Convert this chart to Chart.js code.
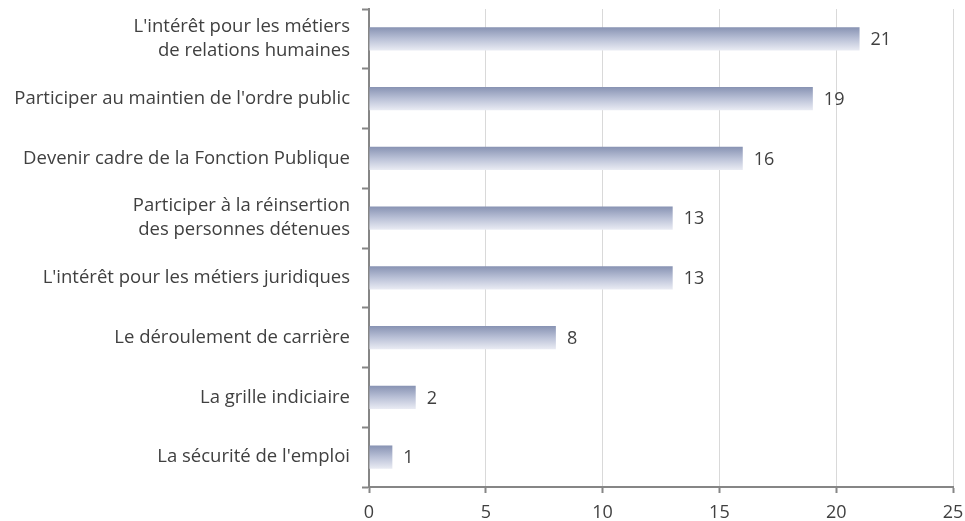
<!DOCTYPE html>
<html>
<head>
<meta charset="utf-8">
<script src="https://cdn.jsdelivr.net/npm/chart.js@4"></script>
<style>
  html, body { margin: 0; padding: 0; background: #fff; }
  #wrap { width: 965px; height: 521px; }
</style>
</head>
<body>
<div id="wrap"><canvas id="chart"></canvas></div>
<script>
const labels = [
  ["L'intérêt pour les métiers", "de relations humaines"],
  "Participer au maintien de l'ordre public",
  "Devenir cadre de la Fonction Publique",
  ["Participer à la réinsertion", "des personnes détenues"],
  "L'intérêt pour les métiers juridiques",
  "Le déroulement de carrière",
  "La grille indiciaire",
  "La sécurité de l'emploi"
];
const values = [21, 19, 16, 13, 13, 8, 2, 1];
const xTicks = [0, 5, 10, 15, 20, 25];

const textColor = "#404040";
const axisColor = "#868686";
const fonte = "'Open Sans', Lato, sans-serif";

// vertical gradient per bar, dark on top, light at bottom
function barGradient(context) {
  const chart = context.chart;
  const yScale = chart.scales.y;
  if (!yScale || !chart.chartArea) return "#a5aec8";
  const meta = chart.getDatasetMeta(context.datasetIndex);
  const bar = meta.data[context.dataIndex];
  const cy = yScale.getPixelForValue(context.dataIndex);
  const h = bar && bar.height ? bar.height : 23;
  const g = chart.ctx.createLinearGradient(0, cy - h / 2, 0, cy + h / 2);
  g.addColorStop(0, "#8893b3");
  g.addColorStop(0.5, "#bac1d7");
  g.addColorStop(1, "#e9ebf3");
  return g;
}

const valueLabels = {
  id: "valueLabels",
  afterDatasetsDraw(chart) {
    const ctx = chart.ctx;
    const meta = chart.getDatasetMeta(0);
    ctx.save();
    ctx.font = "18px " + fonte;
    ctx.fillStyle = textColor;
    ctx.textAlign = "left";
    ctx.textBaseline = "middle";
    meta.data.forEach((bar, i) => {
      ctx.fillText(String(values[i]), bar.x + 11, bar.y + 1);
    });
    ctx.restore();
  }
};

new Chart(document.getElementById("chart"), {
  type: "bar",
  data: {
    labels: labels,
    datasets: [{
      data: values,
      backgroundColor: barGradient,
      borderWidth: 0,
      categoryPercentage: 1,
      barPercentage: 0.39
    }]
  },
  options: {
    indexAxis: "y",
    responsive: true,
    maintainAspectRatio: false,
    animation: false,
    layout: { padding: { top: 9, right: 12, left: 0, bottom: 0 } },
    plugins: {
      legend: { display: false },
      tooltip: { enabled: false }
    },
    scales: {
      x: {
        min: 0,
        max: 25,
        afterBuildTicks: (scale) => { scale.ticks = xTicks.map(v => ({ value: v })); },
        grid: {
          color: "#d9d9d9",
          lineWidth: 1,
          tickColor: axisColor,
          tickLength: 6,
          tickWidth: 2
        },
        border: { color: axisColor, width: 2 },
        ticks: {
          color: textColor,
          padding: 9,
          font: { family: fonte, size: 18 }
        },
        afterFit: (scale) => {
          scale.height = 34;
          scale.paddingLeft = 0;
          scale.paddingRight = 0;
        }
      },
      y: {
        grid: {
          offset: true,
          drawOnChartArea: false,
          tickColor: axisColor,
          tickLength: 7,
          tickWidth: 2
        },
        border: { color: axisColor, width: 2 },
        ticks: {
          color: textColor,
          padding: 12,
          font: { family: fonte, size: 18.5, lineHeight: 1.3 }
        },
        afterFit: (scale) => {
          scale.width = 369;
          scale.paddingTop = 0;
          scale.paddingBottom = 0;
        }
      }
    }
  },
  plugins: [valueLabels]
});
</script>
</body>
</html>
